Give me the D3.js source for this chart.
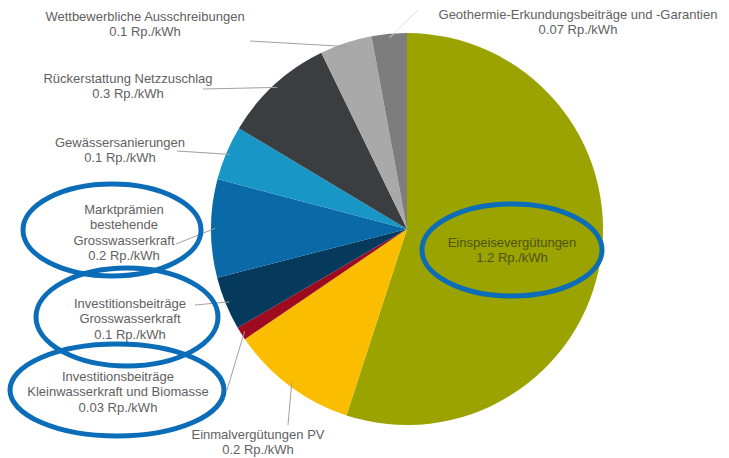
<!DOCTYPE html>
<html><head><meta charset="utf-8">
<script src="https://cdn.jsdelivr.net/npm/d3@7"></script>
<style>body{margin:0;background:#fff;} svg{display:block;}</style>
</head><body>
<svg id="c" width="729" height="458"></svg>
<script>
// Slices clockwise from 12 o'clock (shares in %)
const categories = ["Einspeisevergütungen","Einmalvergütungen PV","Investitionsbeiträge Kleinwasserkraft und Biomasse","Investitionsbeiträge Grosswasserkraft","Marktprämien bestehende Grosswasserkraft","Gewässersanierungen","Rückerstattung Netzzuschlag","Wettbewerbliche Ausschreibungen","Geothermie-Erkundungsbeiträge und -Garantien"];
const shares = [55.0, 10.5, 1.1, 4.4, 8.1, 4.5, 9.2, 4.3, 2.9];
const valueLabels = ["1.2 Rp./kWh","0.2 Rp./kWh","0.03 Rp./kWh","0.1 Rp./kWh","0.2 Rp./kWh","0.1 Rp./kWh","0.3 Rp./kWh","0.1 Rp./kWh","0.07 Rp./kWh"];
const labelLines = [["Einspeisevergütungen"],["Einmalvergütungen PV"],["Investitionsbeiträge","Kleinwasserkraft und Biomasse"],["Investitionsbeiträge","Grosswasserkraft"],["Marktprämien","bestehende","Grosswasserkraft"],["Gewässersanierungen"],["Rückerstattung Netzzuschlag"],["Wettbewerbliche Ausschreibungen"],["Geothermie-Erkundungsbeiträge und -Garantien"]];

const colors = ["#9aa300","#fbbd00","#9e0b1e","#063a5c","#0a6aa8","#1896c6","#3b3e41","#a9a9a9","#7d7d7d"];
const labelPos = [[512,243],[258,435],[118,377],[130,304],[124,210],[120,143],[128,79],[145,17],[578,15]];
const leaderEnd = [null,[288,425],[227,390],[195,305],[176,244],[177,151],[203,89],[250,41],[418,10]];
const ellipses = [[512,250,90,46],[112,230,89,46],[127,317,91,49],[117,390,107,46]];

const svg = d3.select("#c");
const cx = 407, cy = 229, R = 196;
const g = svg.append("g").attr("transform",`translate(${cx},${cy})`);
const data = categories.map((c,i)=>({c, v:shares[i], i}));
const pie = d3.pie().value(d=>d.v).sort(null);
const arcs = pie(data);
const arc = d3.arc().innerRadius(0).outerRadius(R);
g.selectAll("path").data(arcs).join("path")
  .attr("d",arc).attr("fill",d=>colors[d.data.i]);

// leader lines
const edge = d3.arc().innerRadius(R-4).outerRadius(R-4);
arcs.forEach((a,i)=>{
  if(!leaderEnd[i]) return;
  const p = edge.centroid(a);
  svg.append("line")
    .attr("x1",cx+p[0]).attr("y1",cy+p[1])
    .attr("x2",leaderEnd[i][0]).attr("y2",leaderEnd[i][1])
    .attr("stroke", i===8 ? "#e0e0e0" : "#a0a0a0").attr("stroke-width",1);
});

// labels
const font = "'Liberation Sans', Arial, sans-serif";
labelLines.forEach((lines,i)=>{
  const all = lines.concat([valueLabels[i]]);
  const t = svg.append("text").attr("text-anchor","middle")
    .attr("font-family",font).attr("font-size",13)
    .attr("fill", i===0 ? "#4f5410" : "#616161");
  all.forEach((s,k)=>{
    t.append("tspan").attr("x",labelPos[i][0]).attr("y",labelPos[i][1]+4+k*15.3).text(s);
  });
});

// highlight ellipses
ellipses.forEach(e=>{
  svg.append("ellipse").attr("cx",e[0]).attr("cy",e[1]).attr("rx",e[2]).attr("ry",e[3])
    .attr("fill","none").attr("stroke","#0b6cb8").attr("stroke-width",5);
});
</script>
</body></html>
